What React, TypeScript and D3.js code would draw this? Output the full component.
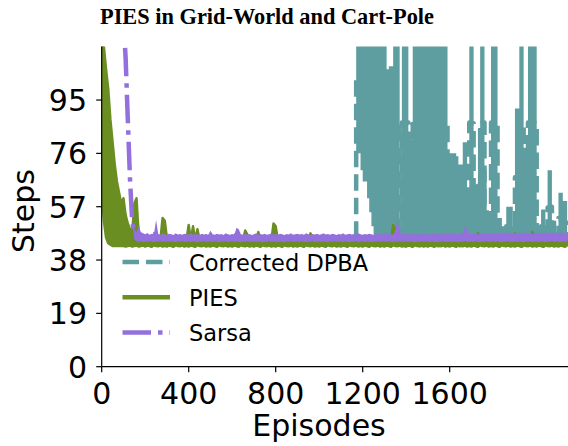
import { useEffect, useRef } from "react";
import * as d3 from "d3";

// one bin every 10 episodes; low / high edge of each curve
const EPISODE_STEP = 10;
const X_TICKS = [0, 400, 800, 1200, 1600];
const Y_TICKS = [0, 19, 38, 57, 76, 95];

const dpbaLow = [
  65, 54, 47, 44.5, 44, 43.9, 43.4, 43.6, 43.8, 43.5,
  43.5, 43.8, 43.4, 43.7, 43.5, 43.9, 43.4, 43.6, 43.8, 43.5,
  43.5, 43.8, 43.4, 43.7, 43.5, 43.9, 43.4, 43.6, 43.8, 43.5,
  43.5, 43.8, 43.4, 43.7, 43.5, 43.9, 43.4, 43.6, 43.8, 43.5,
  43.5, 43.8, 43.4, 43.7, 43.5, 43.9, 43.4, 43.6, 43.8, 43.5,
  43.5, 43.8, 43.4, 43.7, 43.5, 43.9, 43.4, 43.6, 43.8, 43.5,
  43.5, 43.8, 43.4, 43.7, 43.5, 43.9, 43.4, 43.6, 43.8, 43.5,
  43.5, 43.8, 43.4, 43.7, 43.5, 43.9, 43.4, 43.6, 43.8, 43.5,
  43.5, 43.8, 43.4, 43.7, 43.5, 43.9, 43.4, 43.6, 43.8, 43.5,
  43.5, 43.8, 43.4, 43.7, 43.5, 43.9, 43.4, 43.6, 43.8, 43.5,
  43.5, 43.8, 43.4, 43.7, 43.5, 43.9, 43.4, 43.6, 43.8, 43.5,
  43.5, 43.8, 43.4, 43.7, 43.5, 43.9, 43.4, 76, 76, 70,
  66, 66, 60, 55, 50, 46, 45, 44, 45, 43.5,
  44, 43, 44, 43.5, 44, 43, 44, 43.5, 44, 42.5,
  44, 43.5, 44, 43, 44, 43.5, 42.5, 44, 43.5, 44,
  43, 44, 43.5, 44, 42.5, 44, 43.5, 44, 43, 44,
  43.5, 44, 43, 44, 42.5, 44, 43.5, 44, 43, 44,
  43.5, 44, 42.5, 44, 43.5, 44, 43, 44, 43.5, 44,
  43, 44, 42.5, 44, 43.5, 44, 43, 44, 43.5, 44,
  43, 44, 43.5, 42.5, 44, 43.5, 44, 43, 44, 43.5,
  44, 43, 44, 42.5, 44, 43.5, 44, 43, 44, 43.5,
  44, 43, 44, 43.5, 44,
];

const dpbaHigh = [
  110, 100, 85, 70, 55, 44.8, 45, 45.2, 44.9, 45.1,
  45, 44.8, 45.2, 44.9, 45.1, 44.8, 45, 45.2, 44.9, 45.1,
  45, 44.8, 45.2, 44.9, 45.1, 44.8, 45, 45.2, 44.9, 45.1,
  45, 44.8, 45.2, 44.9, 45.1, 44.8, 45, 45.2, 44.9, 45.1,
  45, 44.8, 45.2, 44.9, 45.1, 44.8, 45, 45.2, 44.9, 45.1,
  45, 44.8, 45.2, 44.9, 45.1, 44.8, 45, 45.2, 44.9, 45.1,
  45, 44.8, 45.2, 44.9, 45.1, 44.8, 45, 45.2, 44.9, 45.1,
  45, 44.8, 45.2, 44.9, 45.1, 44.8, 45, 45.2, 44.9, 45.1,
  45, 44.8, 45.2, 44.9, 45.1, 44.8, 45, 45.2, 44.9, 45.1,
  45, 44.8, 45.2, 44.9, 45.1, 44.8, 45, 45.2, 44.9, 45.1,
  45, 44.8, 45.2, 44.9, 45.1, 44.8, 45, 45.2, 44.9, 45.1,
  45, 44.8, 45.2, 44.9, 45.1, 44.8, 45, 130, 130, 130,
  130, 130, 130, 130, 130, 130, 130, 130, 130, 130,
  130, 106, 107, 107, 130, 130, 130, 45.5, 130, 130,
  130, 81, 81, 130, 130, 130, 130, 130, 130, 130,
  130, 130, 130, 130, 130, 130, 130, 130, 130, 76,
  76, 76, 76, 75, 72, 72, 80, 80, 60, 130,
  130, 64, 64, 85, 130, 130, 70, 55, 55, 130,
  130, 130, 53, 53, 50, 50, 57, 57, 57, 48,
  92, 92, 130, 130, 78, 78, 130, 130, 130, 130,
  50, 50, 56, 56, 48, 70, 70, 52, 52, 48,
  62, 62, 59, 59, 46,
];

const piesLow = [
  62, 52, 46, 44, 43.5, 43, 43, 43, 43, 43,
  43, 42.8, 43, 43.2, 42.8, 43, 43.2, 42.8, 43, 43.2,
  42.8, 43.2, 43, 42.7, 43.3, 43, 42.9, 43.2, 42.8, 43.1,
  42.8, 43.2, 43, 42.7, 43.3, 43, 42.9, 43.2, 42.8, 43.1,
  42.8, 43.2, 43, 42.7, 43.3, 43, 42.9, 43.2, 42.8, 43.1,
  42.8, 43.2, 43, 42.7, 43.3, 43, 42.9, 43.2, 42.8, 43.1,
  42.8, 43.2, 43, 42.7, 43.3, 43, 42.9, 43.2, 42.8, 43.1,
  42.8, 43.2, 43, 42.7, 43.3, 43, 42.9, 43.2, 42.8, 43.1,
  42.8, 43.2, 43, 42.7, 43.3, 43, 42.9, 43.2, 42.8, 43.1,
  42.8, 43.2, 43, 42.7, 43.3, 43, 42.9, 43.2, 42.8, 43.1,
  42.8, 43.2, 43, 42.7, 43.3, 43, 42.9, 43.2, 42.8, 43.1,
  42.8, 43.2, 43, 42.7, 43.3, 43, 42.9, 43.2, 42.8, 43.1,
  42.8, 43.2, 43, 42.7, 43.3, 43, 42.9, 43.2, 42.8, 43.1,
  42.8, 43.2, 43, 42.7, 43.3, 43, 42.9, 43.2, 42.8, 43.1,
  42.8, 43.2, 43, 42.7, 43.3, 43, 42.9, 43.2, 42.8, 43.1,
  42.8, 43.2, 43, 42.7, 43.3, 43, 42.9, 43.2, 42.8, 43.1,
  42.8, 43.2, 43, 42.7, 43.3, 43, 42.9, 43.2, 42.8, 43.1,
  42.8, 43.2, 43, 42.7, 43.3, 43, 42.9, 43.2, 42.8, 43.1,
  42.8, 43.2, 43, 42.7, 43.3, 43, 42.9, 43.2, 42.8, 43.1,
  42.8, 43.2, 43, 42.7, 43.3, 43, 42.9, 43.2, 42.8, 43.1,
  42.8, 43.2, 43, 42.7, 43.3, 43, 42.9, 43.2, 42.8, 43.1,
  42.8, 43.2, 43, 42.7, 43.3,
];

const piesHigh = [
  118, 114, 106, 99, 88, 80, 72, 66, 62, 58,
  60, 54, 51, 49, 47.5, 58, 60, 47, 46, 45.5,
  45, 45.5, 44.8, 45.3, 45, 45.6, 44.9, 45.2, 53, 52,
  45.5, 45, 45.3, 44.8, 45.5, 45.2, 45, 45.4, 44.9, 45.3,
  50.5, 45.2, 50, 45, 49, 45.3, 45, 45.5, 44.8, 45.2,
  45, 45.4, 44.9, 45.3, 45.6, 45, 45.2, 44.8, 45.4, 45,
  45.3, 45.5, 44.9, 45.2, 45, 45.4, 48.5, 47, 45.2, 45,
  45.5, 44.9, 48, 45.2, 45, 45.4, 44.8, 45.3, 45, 51,
  50, 45.2, 45.5, 44.9, 45.3, 45, 45.6, 45.1, 44.8, 45.4,
  45, 45.3, 44.9, 45.5, 45.2, 45, 47.5, 45.3, 44.9, 45.4,
  45, 45.5, 45.2, 44.8, 45.4, 45, 45.3, 45.6, 44.9, 45.2,
  45, 45.4, 44.8, 45.3, 45.5, 45, 45.2, 44.9, 45.4, 45,
  45.3, 45.6, 45, 44.8, 45.4, 45.2, 45, 45.5, 44.9, 45.3,
  45, 45.4, 45.2, 45, 50.5, 49, 45.3, 45, 45.5, 44.9,
  45.2, 45.4, 45, 45.6, 44.8, 45.3, 45, 45.4, 45.2, 44.9,
  45.5, 45, 45.3, 44.8, 45.4, 45.1, 45.6, 45, 45.2, 44.9,
  45.4, 45, 45.3, 45.5, 44.9, 45.2, 45, 45.4, 44.8, 45.3,
  45, 45.5, 45.2, 47.5, 47, 45, 45.4, 44.9, 45.3, 45,
  45.5, 45.2, 44.8, 45.4, 45, 45.3, 45.6, 45, 45.2, 44.9,
  47.5, 45.3, 45, 45.4, 44.8, 45.2, 45.5, 45, 48, 45.3,
  45, 45.4, 44.9, 45.2, 45.5, 45, 45.3, 44.8, 45.4, 45,
  45.2, 45.5, 45, 45.3, 44.9,
];

const sarsaLow = [
  180, 176, 172, 168, 163, 158, 152, 145, 138, 131,
  124, 110, 88, 67, 52, 45.5, 44.6, 44.5, 44.7, 44.4,
  44.6, 44.4, 44.7, 44.5, 44.3, 44.6, 44.5, 44.8, 44.4, 44.6,
  44.6, 44.4, 44.7, 44.5, 44.3, 44.6, 44.5, 44.8, 44.4, 44.6,
  44.6, 44.4, 44.7, 44.5, 44.3, 44.6, 44.5, 44.8, 44.4, 44.6,
  44.6, 44.4, 44.7, 44.5, 44.3, 44.6, 44.5, 44.8, 44.4, 44.6,
  44.6, 44.4, 44.7, 44.5, 44.3, 44.6, 44.5, 44.8, 44.4, 44.6,
  44.6, 44.4, 44.7, 44.5, 44.3, 44.6, 44.5, 44.8, 44.4, 44.6,
  44.6, 44.4, 44.7, 44.5, 44.3, 44.6, 44.5, 44.8, 44.4, 44.6,
  44.6, 44.4, 44.7, 44.5, 44.3, 44.6, 44.5, 44.8, 44.4, 44.6,
  44.6, 44.4, 44.7, 44.5, 44.3, 44.6, 44.5, 44.8, 44.4, 44.6,
  44.6, 44.4, 44.7, 44.5, 44.3, 44.6, 44.5, 44.8, 44.4, 44.6,
  44.6, 44.4, 44.7, 44.5, 44.3, 44.6, 44.5, 44.8, 44.4, 44.6,
  44.6, 44.4, 44.7, 44.5, 44.3, 44.6, 44.5, 44.8, 44.4, 44.6,
  44.6, 44.4, 44.7, 44.5, 44.3, 44.6, 44.5, 44.8, 44.4, 44.6,
  44.6, 44.4, 44.7, 44.5, 44.3, 44.6, 44.5, 44.8, 44.4, 44.6,
  44.6, 44.4, 44.7, 44.5, 44.3, 44.6, 44.5, 44.8, 44.4, 44.6,
  44.6, 44.4, 44.7, 44.5, 44.3, 44.6, 44.5, 44.8, 44.4, 44.6,
  44.6, 44.4, 44.7, 44.5, 44.3, 44.6, 44.5, 44.8, 44.4, 44.6,
  44.6, 44.4, 44.7, 44.5, 44.3, 44.6, 44.5, 44.8, 44.4, 44.6,
  44.6, 44.4, 44.7, 44.5, 44.3, 44.6, 44.5, 44.8, 44.4, 44.6,
  44.6, 44.4, 44.7, 44.5, 44.3,
];

const sarsaHigh = [
  180, 176, 172, 168, 163, 158, 152, 145, 138, 131,
  124, 110, 88, 67, 52, 49, 48, 50, 48, 47.5,
  47.2, 47.6, 47, 47.4, 47.1, 52.3, 47.3, 47, 47.5, 47.2,
  47, 47.4, 47.2, 46.9, 47.5, 47.1, 47.3, 47, 47.4, 47.2,
  47.1, 47.5, 47, 47.3, 47.2, 46.9, 47.4, 47.1, 47.3, 47,
  48.4, 47.2, 47, 47.4, 47.1, 47.3, 46.9, 47.5, 47.2, 47,
  47.3, 47.1, 49.5, 49, 47.2, 47, 47.4, 47.1, 47.3, 46.9,
  47.2, 47.5, 47, 47.3, 47.1, 47.4, 47, 47.2, 47.5, 47.1,
  47.3, 47, 47.4, 47.2, 46.9, 47.3, 47.1, 47.5, 47, 47.2,
  47.4, 47.1, 47.3, 47, 47.5, 47.2, 46.9, 47.3, 47.1, 47.4,
  47, 47.2, 47.5, 47.1, 47.3, 47, 47.4, 47.2, 46.9, 47.3,
  47.1, 47.5, 47, 47.2, 47.4, 47.1, 47.3, 47, 47.5, 47.2,
  47, 47.3, 47.1, 47.4, 47.2, 46.9, 47.3, 47.1, 47.5, 47,
  47.2, 47.4, 47.1, 47.3, 47, 47.5, 53, 47.6, 47.1, 47.3,
  47, 47.4, 47.2, 47.1, 47.5, 47, 47.3, 47.2, 47.4, 47.1,
  47.3, 47, 47.5, 47.2, 47.1, 47.4, 47, 47.3, 47.6, 47.2,
  47.1, 47.5, 47.3, 47, 47.4, 47.2, 47.6, 50, 49, 47.3,
  47.5, 47.2, 47.4, 47.1, 47.6, 47.3, 47.8, 47.2, 47.5, 47.3,
  47.7, 47.4, 47.2, 47.6, 47.3, 48, 47.5, 47.4, 47.8, 47.3,
  47.6, 47.4, 47.9, 47.3, 47.5, 48, 47.4, 47.7, 47.3, 47.6,
  47.8, 47.4, 47.6, 47.3, 47.9, 47.5, 47.4, 48, 47.6, 47.3,
  47.7, 47.5, 47.8, 47.4, 47.6,
];

const series = [
  { name: "Corrected DPBA", low: dpbaLow, high: dpbaHigh, color: "#5f9ea0", dash: "16.5,7", step: true, edge: 0 },
  { name: "PIES", low: piesLow, high: piesHigh, color: "#6b8e23", dash: null, step: false, edge: 2.5 },
  { name: "Sarsa", low: sarsaLow, high: sarsaHigh, color: "#9370db", dash: "28.5,7,4.5,7", step: false, edge: 0 },
];

export default function App() {
  const svgRef = useRef<SVGSVGElement>(null);

  useEffect(() => {
    const width = 568;
    const height = 446;
    const left = 101.7;
    const bottom = 366.7;
    const top = 46.5;

    const svg = d3.select(svgRef.current);
    svg.selectAll("*").remove();
    svg.attr("width", width).attr("height", height);

    const x = d3.scaleLinear().domain([0, 2000]).range([left, 536.7]);
    const y = d3.scaleLinear().domain([0, 114]).range([bottom, bottom - 114 * 2.807]);

    svg.append("defs")
      .append("clipPath")
      .attr("id", "plot-clip")
      .append("rect")
      .attr("x", left)
      .attr("y", top)
      .attr("width", width - left)
      .attr("height", bottom - top);

    const plot = svg.append("g").attr("clip-path", "url(#plot-clip)");
    series.forEach((s) => {
      const curve = s.step ? d3.curveStepAfter : d3.curveLinear;
      const idx = d3.range(s.low.length);
      const band = d3
        .area<number>()
        .x((i) => x(i * EPISODE_STEP))
        .y0((i) => y(s.low[i]))
        .y1((i) => y(s.high[i]))
        .curve(curve);
      const mid = d3
        .line<number>()
        .x((i) => x(i * EPISODE_STEP))
        .y((i) => y((s.low[i] + s.high[i]) / 2))
        .curve(curve);

      plot.append("path")
        .attr("d", band(idx))
        .attr("fill", s.color)
        .attr("stroke", s.edge ? s.color : "none")
        .attr("stroke-width", s.edge)
        .attr("stroke-linejoin", "round");
      plot.append("path")
        .attr("d", mid(idx))
        .attr("fill", "none")
        .attr("stroke", s.color)
        .attr("stroke-width", 4.5)
        .attr("stroke-linejoin", "round")
        .attr("stroke-dasharray", s.dash);
    });

    // spines + ticks
    svg.append("line")
      .attr("x1", left).attr("x2", left).attr("y1", top).attr("y2", bottom)
      .attr("stroke", "#000").attr("stroke-width", 1.2);
    svg.append("line")
      .attr("x1", left).attr("x2", width).attr("y1", bottom).attr("y2", bottom)
      .attr("stroke", "#000").attr("stroke-width", 1.2);

    const yt = svg.append("g").attr("font-family", "DejaVu Sans").attr("font-size", 30);
    Y_TICKS.forEach((t) => {
      yt.append("line")
        .attr("x1", left - 5.5).attr("x2", left).attr("y1", y(t)).attr("y2", y(t))
        .attr("stroke", "#000").attr("stroke-width", 1.2);
      yt.append("text")
        .attr("x", 87).attr("y", y(t) + 11)
        .attr("text-anchor", "end")
        .text(t);
    });

    const xt = svg.append("g").attr("font-family", "DejaVu Sans").attr("font-size", 30);
    X_TICKS.forEach((t) => {
      xt.append("line")
        .attr("x1", x(t)).attr("x2", x(t)).attr("y1", bottom).attr("y2", bottom + 5.5)
        .attr("stroke", "#000").attr("stroke-width", 1.2);
      xt.append("text")
        .attr("x", x(t)).attr("y", 404)
        .attr("text-anchor", "middle")
        .text(t);
    });

    svg.append("text")
      .attr("x", 319).attr("y", 436)
      .attr("text-anchor", "middle")
      .attr("font-family", "DejaVu Sans").attr("font-size", 30)
      .text("Episodes");

    svg.append("text")
      .attr("transform", "translate(34,211) rotate(-90)")
      .attr("text-anchor", "middle")
      .attr("font-family", "DejaVu Sans").attr("font-size", 30)
      .text("Steps");

    svg.append("text")
      .attr("x", 267).attr("y", 24)
      .attr("text-anchor", "middle")
      .attr("font-family", "Liberation Serif").attr("font-weight", "bold").attr("font-size", 24)
      .attr("textLength", 334).attr("lengthAdjust", "spacingAndGlyphs")
      .text("PIES in Grid-World and Cart-Pole");

    // legend, no frame
    const legend = svg.append("g").attr("font-family", "DejaVu Sans").attr("font-size", 22.5);
    series.forEach((s, i) => {
      const ly = 262 + i * 35.2;
      legend.append("line")
        .attr("x1", 122.5).attr("x2", 170).attr("y1", ly).attr("y2", ly)
        .attr("stroke", s.color).attr("stroke-width", 4.5)
        .attr("stroke-dasharray", s.dash);
      legend.append("text")
        .attr("x", 189).attr("y", ly + 8.5)
        .text(s.name);
    });
  }, []);

  return <svg ref={svgRef} style={{ position: "absolute", left: 0, top: 0 }} />;
}
